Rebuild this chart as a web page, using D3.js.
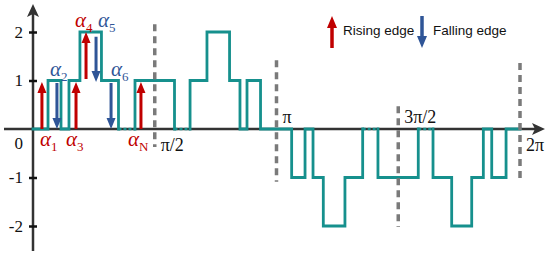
<!DOCTYPE html>
<html>
<head>
<meta charset="utf-8">
<script src="https://cdn.jsdelivr.net/npm/d3@7"></script>
<style>
    html, body { margin: 0; padding: 0; background: #fff; }
    svg { display: block; }
    .serif { font-family: 'Liberation Serif', 'Times New Roman', Times, 'DejaVu Serif', serif; }
    .sans { font-family: 'Liberation Sans', Arial, Helvetica, sans-serif; }
</style>
</head>
<body>
<div id="chart"></div>
<script>
// switching angles (degrees) and the output level held after each one
const switchAngles = [0, 11.1, 20.7, 26.6, 34.7, 50.6, 63.2, 75.4, 104.6, 116.1, 128.6, 145.3, 153.0, 158.2, 168.2,
    191.2, 201.1, 207.0, 214.6, 230.6, 243.7, 255.0, 284.8, 295.7, 309.5, 324.3, 332.9, 339.1, 349.7, 360];
const levels = [0, 1, 0, 1, 2, 1, 0, 1, 0, 1, 2, 1, 0, 1, 0,
    -1, 0, -1, -2, -1, 0, -1, 0, -1, -2, -1, 0, -1, 0];
// zero stretches drawn dotted (omitted pulses)
const dottedRanges = [[63.2, 75.4], [104.6, 116.1], [243.7, 255.0], [284.8, 295.7]];

const yTicks = [-2, -1, 1, 2];
const piAngles = [90, 180, 270, 360];
const piLabels = ['π/2', 'π', '3π/2', '2π'];
const piLabelAbove = [false, true, true, false];
const guideTop = [2.16, 1.42, 0.47, 1.36];
const guideBottom = [-0.37, -1.09, -2.02, -1.11];

// edge arrows
const edgeNames = ['1', '2', '3', '4', '5', '6', 'N'];
const edgeAngles = [6.6, 17.7, 31.8, 39.2, 46.6, 57.7, 79.8];
const edgeRising = [true, false, true, true, false, false, true];
const edgeFrom = [0, 0.95, 0, 1.03, 1.9, 0.95, 0];
const edgeTo = [0.97, 0, 0.97, 2, 0.97, 0, 0.97];
const labelAngles = [5.2, 12.6, 24.4, 31.0, 48.0, 57.7, 70.2];
const labelLevels = [-0.36, 1.1, -0.36, 2.1, 2.1, 1.1, -0.36];

const legendNames = ['Rising edge', 'Falling edge'];

let width = 550;
let height = 256;
let red = '#c00000';
let blue = '#2f5597';
let teal = '#16908d';
let axisColor = '#333';

let x = d3.scaleLinear().domain([0, 360]).range([33, 520]);
let y = d3.scaleLinear().domain([-2, 2]).range([226, 32]);

let svg = d3.select('#chart')
    .append('svg')
    .attr('width', width)
    .attr('height', height);

function arrowPath(xc, y0, y1, shaft, headW, headL) {
    let dir = y1 < y0 ? -1 : 1;
    let yb = y1 - dir * headL;
    return 'M' + (xc - shaft / 2) + ',' + y0 +
        'L' + (xc - shaft / 2) + ',' + yb +
        'L' + (xc - headW / 2) + ',' + yb +
        'L' + xc + ',' + y1 +
        'L' + (xc + headW / 2) + ',' + yb +
        'L' + (xc + shaft / 2) + ',' + yb +
        'L' + (xc + shaft / 2) + ',' + y0 + 'Z';
}

// axes
svg.append('line')
    .attr('x1', 4).attr('x2', 536)
    .attr('y1', y(0)).attr('y2', y(0))
    .attr('stroke', axisColor).attr('stroke-width', 2.5);
svg.append('path')
    .attr('d', 'M545,' + y(0) + 'L532,' + (y(0) - 6) + 'L535,' + y(0) + 'L532,' + (y(0) + 6) + 'Z')
    .attr('fill', axisColor);
svg.append('line')
    .attr('x1', x(0)).attr('x2', x(0))
    .attr('y1', 251).attr('y2', 12)
    .attr('stroke', axisColor).attr('stroke-width', 2.5);
svg.append('path')
    .attr('d', 'M' + x(0) + ',4L' + (x(0) - 6) + ',17L' + x(0) + ',14L' + (x(0) + 6) + ',17Z')
    .attr('fill', axisColor);

let yAxis = svg.append('g')
    .attr('transform', 'translate(' + x(0) + ',0)')
    .call(d3.axisLeft(y).tickValues(yTicks).tickSize(4).tickPadding(6).tickFormat(d => String(d)));
yAxis.attr('font-family', null).attr('font-size', null);
yAxis.select('.domain').remove();
yAxis.selectAll('.tick line')
    .attr('x1', -4).attr('x2', 4)
    .attr('stroke', '#111').attr('stroke-width', 2.5);
yAxis.selectAll('.tick text')
    .attr('class', 'serif')
    .attr('fill', '#111')
    .style('font-size', '17px');

svg.append('text')
    .attr('class', 'serif')
    .attr('x', x(0) - 10).attr('y', y(0) + 20)
    .attr('text-anchor', 'end')
    .attr('fill', '#111')
    .style('font-size', '17px')
    .text('0');

// waveform
function isDotted(a) {
    return dottedRanges.some(r => Math.abs(r[0] - a) < 0.01);
}
let solid = d3.path();
let dotted = d3.path();
solid.moveTo(x(switchAngles[0]), y(levels[0]));
for (let i = 0; i < levels.length; i++) {
    let x0 = x(switchAngles[i]);
    let x1 = x(switchAngles[i + 1]);
    let yl = y(levels[i]);
    if (isDotted(switchAngles[i])) {
        dotted.moveTo(x0, yl);
        dotted.lineTo(x1, yl);
        solid.moveTo(x1, yl);
    } else {
        solid.lineTo(x1, yl);
    }
    if (i + 1 < levels.length) {
        solid.lineTo(x1, y(levels[i + 1]));
    }
}
svg.append('path')
    .attr('d', dotted.toString())
    .attr('fill', 'none')
    .attr('stroke', teal)
    .attr('stroke-width', 2.5)
    .attr('stroke-dasharray', '3,2');
svg.append('path')
    .attr('d', solid.toString())
    .attr('fill', 'none')
    .attr('stroke', teal)
    .attr('stroke-width', 2.8)
    .attr('stroke-linejoin', 'miter')
    .attr('stroke-linecap', 'square');

// dashed guides at pi/2 multiples
svg.selectAll('.guide')
    .data(piAngles)
    .enter()
    .append('line')
    .attr('class', 'guide')
    .attr('x1', d => x(d)).attr('x2', d => x(d))
    .attr('y1', (d, i) => y(guideTop[i]))
    .attr('y2', (d, i) => y(guideBottom[i]))
    .attr('stroke', '#7a7a7a')
    .attr('stroke-width', 3.5)
    .attr('stroke-dasharray', '7,5');

svg.selectAll('.pi-label')
    .data(piAngles)
    .enter()
    .append('text')
    .attr('class', 'serif')
    .attr('x', d => x(d) + 6)
    .attr('y', (d, i) => piLabelAbove[i] ? y(0) - 6 : y(0) + 22)
    .attr('fill', '#111')
    .style('font-size', '18px')
    .text((d, i) => piLabels[i]);

// edge arrows
svg.selectAll('.edge')
    .data(edgeAngles)
    .enter()
    .append('path')
    .attr('class', 'edge')
    .attr('d', (d, i) => arrowPath(x(d), y(edgeFrom[i]), y(edgeTo[i]), 3, 9, 11))
    .attr('fill', (d, i) => edgeRising[i] ? red : blue);

let labels = svg.selectAll('.alpha')
    .data(edgeNames)
    .enter()
    .append('text')
    .attr('class', 'serif')
    .attr('x', (d, i) => x(labelAngles[i]))
    .attr('y', (d, i) => y(labelLevels[i]))
    .attr('fill', (d, i) => edgeRising[i] ? red : blue);
labels.append('tspan')
    .style('font-size', '21px')
    .style('font-style', 'italic')
    .text('α');
labels.append('tspan')
    .attr('dy', 5)
    .style('font-size', '13px')
    .text(d => d);

// legend
let legend = svg.selectAll('.legend')
    .data(legendNames)
    .enter()
    .append('g')
    .attr('class', 'legend')
    .attr('transform', (d, i) => 'translate(' + (332 + i * 90) + ',0)');
legend.append('path')
    .attr('d', (d, i) => i === 0 ? arrowPath(0, 48, 16, 3.5, 10, 12) : arrowPath(0, 16, 48, 3.5, 10, 12))
    .attr('fill', (d, i) => i === 0 ? red : blue);
legend.append('text')
    .attr('class', 'sans')
    .attr('x', 11)
    .attr('y', 35)
    .attr('fill', '#111')
    .style('font-size', '13.5px')
    .text(d => d);
</script>
</body>
</html>
